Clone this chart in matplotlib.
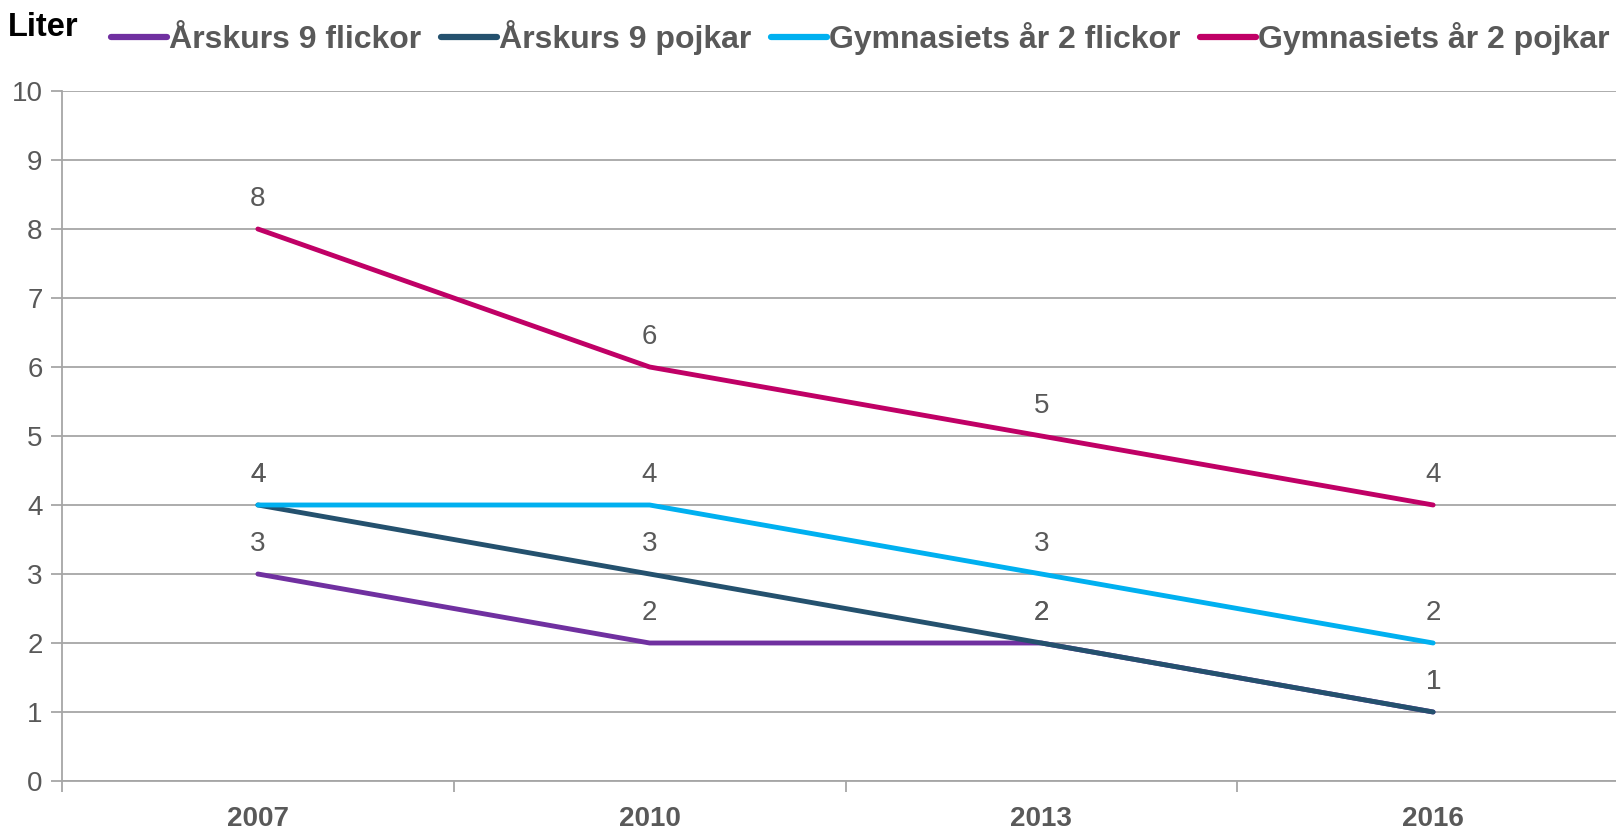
import matplotlib.pyplot as plt
from matplotlib.lines import Line2D

plt.rcParams['font.family'] = ['Liberation Sans', 'DejaVu Sans']

years = ['2007', '2010', '2013', '2016']
ak9_flickor = [3, 2, 2, 1]
ak9_pojkar = [4, 3, 2, 1]
gy2_flickor = [4, 4, 3, 2]
gy2_pojkar = [8, 6, 5, 4]

series = [
    ('Årskurs 9 flickor', ak9_flickor, '#7030A0'),
    ('Årskurs 9 pojkar', ak9_pojkar, '#24516E'),
    ('Gymnasiets år 2 flickor', gy2_flickor, '#00B0F0'),
    ('Gymnasiets år 2 pojkar', gy2_pojkar, '#C00066'),
]

W, H = 1616, 835
fig = plt.figure(figsize=(W / 100, H / 100), dpi=100)
ax = fig.add_axes([62 / W, (H - 781) / H, (1629 - 62) / W, (781 - 91) / H])

x = range(len(years))
for name, vals, col in series:
    ax.plot(x, vals, color=col, lw=3.5, solid_capstyle='round', label=name, zorder=3)
    for xi, v in zip(x, vals):
        ax.annotate(str(v), (xi, v), xytext=(0, 12), textcoords='offset points',
                    ha='center', va='bottom', fontsize=20, color='#595959')

ax.set_xlim(-0.5, 3.5)
ax.set_ylim(0, 10)
ax.set_yticks(range(0, 11))
ax.yaxis.grid(True, color='#A6A6A6', lw=1.3)
ax.set_axisbelow(True)
ax.set_xticks([-0.5, 0.5, 1.5, 2.5, 3.5])
ax.set_xticklabels([])
ax.set_xticks(list(x), minor=True)
ax.set_xticklabels(years, minor=True, fontsize=20, fontweight='bold', color='#595959')
ax.tick_params(axis='x', which='minor', length=0, pad=18)
ax.tick_params(axis='x', which='major', length=8, color='#A6A6A6', width=1.3, direction='out')
ax.tick_params(axis='y', length=8, color='#A6A6A6', width=1.3, labelsize=20,
               labelcolor='#595959', pad=6)
for s in ['top', 'right']:
    ax.spines[s].set_visible(False)
for s in ['left', 'bottom']:
    ax.spines[s].set_color('#A6A6A6')
    ax.spines[s].set_linewidth(1.3)

fig.text(8 / W, 1 - 28 / H, 'Liter', fontsize=23.5, fontweight='bold', color='black',
         va='center', ha='left')

handles = [Line2D([], [], color=c, lw=4.5, solid_capstyle='round') for _, _, c in series]
fig.legend(handles, [n for n, _, _ in series], loc='center left',
           bbox_to_anchor=(111 / W, 1 - 38 / H), ncol=4, frameon=False,
           handlelength=1.75, handletextpad=0.08, columnspacing=0.6,
           prop={'size': 23, 'weight': 'bold'}, labelcolor='#595959',
           borderaxespad=0, borderpad=0)

fig.savefig('out.png', dpi=100)
